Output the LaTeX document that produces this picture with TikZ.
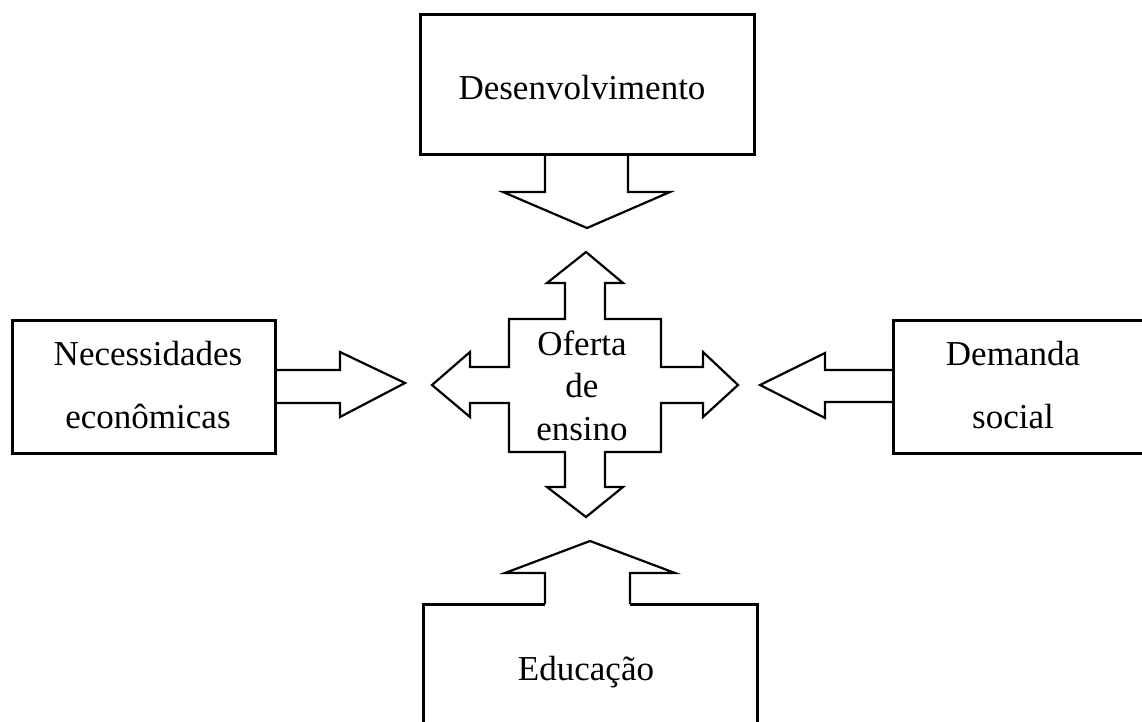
\documentclass[tikz,border=0pt]{standalone}
\usepackage{fontspec}
\setmainfont{Liberation Serif}
\begin{document}
\begin{tikzpicture}[x=1pt,y=-1pt,
  boxline/.style={line width=3pt},
  arrline/.style={line width=2.2pt,line join=miter},
  lbl/.style={anchor=base,inner sep=0pt,font=\fontsize{35}{40}\selectfont}]
\useasboundingbox[fill=white] (0,0) rectangle (1142,722);
% top box: Desenvolvimento
\draw[boxline] (420,15) rectangle (754,155);
\draw[arrline] (545,155) -- (545,192) -- (503,192) -- (587,228) -- (670,192) -- (628,192) -- (628,155);
\node[lbl] (des) at (582,100) {Desenvolvimento};
% left box
\draw[boxline] (12,320) rectangle (275,453);
\draw[arrline] (275,370) -- (340,370) -- (340,352) -- (405,383) -- (340,417) -- (340,403) -- (275,403);
\node[lbl] (nec1) at (148,365) {Necessidades};
\node[lbl] (nec2) at (148,428) {econômicas};
% right box
\draw[boxline] (1150,320) -- (893,320) -- (893,453) -- (1150,453);
\draw[arrline] (893,370) -- (825,370) -- (825,353) -- (760,385) -- (825,418) -- (825,402) -- (893,402);
\node[lbl] (dem1) at (1013,365) {Demanda};
\node[lbl] (dem2) at (1013,428) {social};
% bottom box
\draw[boxline] (423,730) -- (423,604) -- (545,604);
\draw[boxline] (630,604) -- (757,604) -- (757,730);
\draw[arrline] (545,604) -- (545,573) -- (505,573) -- (590,541) -- (675,573) -- (630,573) -- (630,604);
\node[lbl] (edu) at (586,680) {Educação};
% centre cross
\draw[arrline] (586,252) -- (623,283) -- (605,283) -- (605,319) -- (661,319) -- (661,367)
  -- (703,367) -- (703,352) -- (738,385) -- (703,417) -- (703,403) -- (661,403)
  -- (661,452) -- (605,452) -- (605,487) -- (623,487) -- (586,517) -- (547,487)
  -- (565,487) -- (565,452) -- (509,452) -- (509,403) -- (470,403) -- (470,417)
  -- (432,385) -- (470,352) -- (470,367) -- (509,367) -- (509,319) -- (565,319)
  -- (565,283) -- (547,283) -- cycle;
\node[lbl] (ofe1) at (582,355) {Oferta};
\node[lbl] (ofe2) at (582,397) {de};
\node[lbl] (ofe3) at (582,440) {ensino};
\end{tikzpicture}
\end{document}
